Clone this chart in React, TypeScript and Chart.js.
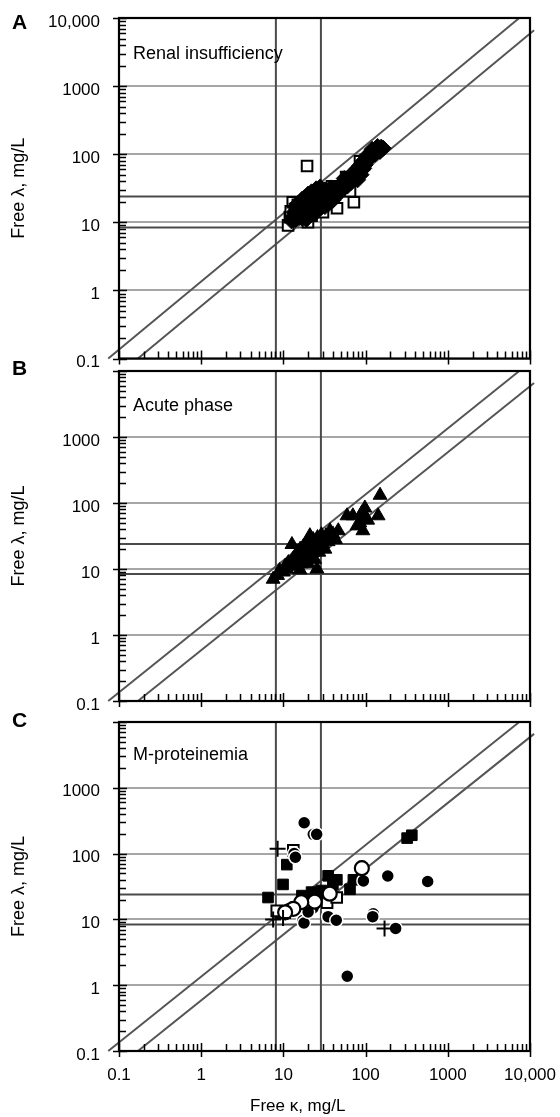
import React, { useEffect, useRef } from "react";
import { Chart, registerables } from "chart.js";

Chart.register(...registerables);

const FONT_FAMILY = "'Liberation Sans', Arial, Helvetica, sans-serif";
const TEXT_COLOR = "#000";

// Axis ticks (both axes, log scale 0.1 – 10,000)
const decadeValues = [0.1, 1, 10, 100, 1000, 10000];
const decadeLabels = ["0.1", "1", "10", "100", "1000", "10,000"];
const decadeLabelsNoTop = ["0.1", "1", "10", "100", "1000", ""];
const minorSteps = [2, 3, 4, 5, 6, 7, 8, 9];

// Reference-range lines (mg/L)
const kappaLimits = [8.1, 28.6];
const lambdaLimits = [8.4, 24];

// Ratio boundary lines: endpoints (κ, λ)
const ratioUpperKappa = [0.074, 7400];
const ratioUpperLambda = [0.1, 10000];
const ratioLowerKappa = [0.17, 11200];
const ratioLowerLambda = [0.1, 6600];

// Panel A: renal insufficiency [κ, λ]
const renalFilled = [
  [12.5, 10.5], [13, 12], [13.5, 14], [14, 11], [14.5, 13], [15, 16], [15.5, 12], [16, 14.5],
  [16.5, 18], [17, 11.5], [17, 13.5], [17.5, 16], [18, 20], [18.5, 14], [19, 17], [19.5, 22],
  [20, 12.5], [20, 15], [21, 19], [21.5, 25], [22, 16], [22.5, 21], [23, 13.5], [23.5, 18],
  [24, 23], [24.5, 27], [25, 20], [26, 16], [26.5, 24], [27, 29], [28, 21], [29, 18],
  [30, 26], [31, 22], [32, 30], [33, 19], [34, 25], [36, 28], [37, 22], [38, 32],
  [40, 26], [42, 30], [44, 24], [46, 33], [48, 28], [51, 36], [54, 31], [57, 40],
  [60, 34], [62, 46], [66, 38], [70, 52], [73, 44], [77, 60], [81, 50], [85, 68],
  [90, 58], [94, 80], [99, 70], [104, 92], [109, 84], [114, 104], [120, 96], [126, 115],
  [132, 108], [138, 124], [146, 118], [155, 127], [164, 122], [120, 118], [108, 100],
  [14, 17], [16, 20], [18, 23], [20, 26], [22, 28], [25, 31], [28, 33], [19, 11],
  [22, 13], [25, 14], [28, 16], [32, 17], [36, 19], [40, 21], [45, 27], [50, 30],
  [55, 44], [65, 48], [75, 55], [80, 42], [88, 50], [95, 62], [100, 76], [112, 90],
  [130, 100], [140, 130], [150, 110], [17, 22], [15, 19],
];
const renalOpen = [
  [19.4, 67], [11.4, 9], [12, 11.9], [12.3, 14.5], [13, 19.7], [13.8, 15.7], [15, 18],
  [17.3, 11.2], [19.9, 10], [22, 12.5], [30.3, 14.1], [39, 33.8], [44.9, 16.1], [64.6, 28.6],
  [72, 19.7], [85.5, 78.5], [58, 46], [100, 82], [26, 27], [33, 23],
];

// Panel B: acute phase [κ, λ]
const acuteTriangles = [
  [7.5, 7], [8.5, 8], [9, 9.5], [10, 9], [10.5, 11], [11, 10], [11.5, 12.5], [12, 11],
  [12.7, 23.5], [13, 14], [13.5, 12], [14, 16], [14.5, 13], [15, 18], [15.5, 14], [15.9, 9.7],
  [16, 20], [16.5, 12], [17, 16], [17.5, 22], [18, 14], [18.5, 19], [19, 25], [19.5, 17],
  [20, 12], [20, 21], [21, 32], [21, 15], [22, 24], [22.5, 18], [23, 28], [23.5, 20],
  [24, 14], [24.5, 25], [25, 22], [25.6, 10], [26, 30], [27, 18], [27.5, 26], [28, 22],
  [29, 33], [30, 24], [31, 28], [32, 20], [33, 32], [35, 26], [36.9, 38], [38, 30],
  [40, 34], [43, 28], [46.5, 38], [59.5, 64], [70, 64], [78.5, 45], [90, 71], [92.7, 38],
  [98, 84], [106, 55], [142, 64], [150, 131], [100, 60], [85, 50],
];

// Panel C: M-proteinemia [κ, λ]
const mpFilledSquares = [
  [320, 172], [365, 190], [11, 68], [9.9, 34], [6.5, 21.5], [35, 46], [44.7, 40], [40, 34],
  [64.6, 28.7], [22, 26], [16.8, 23], [29, 27.5], [71, 40], [26, 24],
];
const mpOpenSquares = [
  [13.2, 112], [8.3, 13.5], [34, 18], [44.5, 21.5],
];
const mpFilledCircles = [
  [17.9, 294], [23.1, 196], [25.4, 196], [13.5, 100], [14, 88], [89.7, 64.6], [94, 38.5],
  [186, 45.7], [569, 37.6], [124, 12.2], [122, 11], [232, 7.3], [59.8, 1.37], [17.3, 9.6],
  [17.8, 8.8], [35, 11], [44, 9.7], [11.5, 14.5], [14.7, 15.3], [23, 15], [20, 13],
];
const mpOpenCircles = [
  [36.6, 24.6], [24, 18.6], [16.5, 18.3], [13.2, 14.5], [10.5, 12.8], [90, 60],
];
const mpCrosses = [
  [8.5, 118], [170, 7.3], [7.5, 10], [9.9, 10.5],
];

type Pair = number[];
type Series = { data: Pair[]; style: string; radius: number; fill: string; stroke: string; width: number };
type PanelDef = {
  top: number;
  height: number;
  plotTop: number;
  plotBottom: number;
  xAxisHeight: number;
  showXLabels: boolean;
  yLabels: string[];
  series: Series[];
};

const allTicks: number[] = decadeValues.flatMap((d, i) =>
  i < decadeValues.length - 1 ? [d, ...minorSteps.map((m) => m * d)] : [d]
);
const decadeIndex = (v: number) => decadeValues.findIndex((d) => Math.abs(v / d - 1) < 1e-6);

const framePlugin = {
  id: "frameTicks",
  afterDatasetsDraw(chart: any) {
    const { ctx, chartArea: a, scales } = chart;
    ctx.save();
    ctx.strokeStyle = "#000";
    ctx.lineWidth = 1.5;
    ctx.beginPath();
    for (const t of scales.x.ticks) {
      const px = Math.round(scales.x.getPixelForValue(t.value)) + 0.5;
      if (decadeIndex(t.value) >= 0) {
        ctx.moveTo(px, a.bottom - 8);
        ctx.lineTo(px, a.bottom + 6);
      } else {
        ctx.moveTo(px, a.bottom - 7);
        ctx.lineTo(px, a.bottom);
      }
    }
    for (const t of scales.y.ticks) {
      const py = Math.round(scales.y.getPixelForValue(t.value)) + 0.5;
      if (decadeIndex(t.value) >= 0) {
        ctx.moveTo(a.left - 6, py);
        ctx.lineTo(a.left + 8, py);
      } else {
        ctx.moveTo(a.left, py);
        ctx.lineTo(a.left + 7, py);
      }
    }
    ctx.stroke();
    ctx.lineWidth = 2.2;
    ctx.strokeRect(a.left, a.top, a.right - a.left, a.bottom - a.top);
    ctx.restore();
  },
};

function Panel({ def }: { def: PanelDef }) {
  const ref = useRef<HTMLCanvasElement>(null);
  useEffect(() => {
    const canvas = ref.current;
    if (!canvas) return;
    const pts = (arr: Pair[]) => arr.map(([x, y]) => ({ x, y }));
    const refLine = (xs: number[], ys: number[], clip: boolean, color: string) => ({
      data: xs.map((x, i) => ({ x, y: ys[i] })),
      showLine: true,
      pointRadius: 0,
      borderColor: color,
      backgroundColor: color,
      borderWidth: 2,
      clip: clip ? undefined : false,
      order: 20,
    });
    const n = def.series.length;
    const datasets: any[] = [
      ...def.series.map((s, i) => ({
        data: pts(s.data),
        showLine: false,
        pointStyle: s.style,
        pointRadius: s.radius,
        pointBackgroundColor: s.fill,
        pointBorderColor: s.stroke,
        pointBorderWidth: s.width,
        backgroundColor: s.fill,
        borderColor: s.stroke,
        borderWidth: s.width,
        clip: false,
        order: n - i,
      })),
      ...kappaLimits.map((k) => refLine([k, k], [0.1, 10000], true, "#4a4a4a")),
      ...lambdaLimits.map((l) => refLine([0.1, 10000], [l, l], true, "#4a4a4a")),
      refLine(ratioUpperKappa, ratioUpperLambda, false, "#555"),
      refLine(ratioLowerKappa, ratioLowerLambda, false, "#555"),
    ];
    const font = { family: FONT_FAMILY, size: 17 };
    const chart = new Chart(canvas, {
      type: "scatter",
      data: { datasets },
      plugins: [framePlugin],
      options: {
        responsive: false,
        maintainAspectRatio: false,
        animation: false,
        events: [],
        layout: {
          padding: {
            left: 0,
            right: 30,
            top: def.plotTop - def.top,
            bottom: def.height - (def.plotBottom - def.top) - def.xAxisHeight,
          },
        },
        plugins: { legend: { display: false }, tooltip: { enabled: false } },
        scales: {
          x: {
            type: "logarithmic",
            min: 0.1,
            max: 10000,
            afterBuildTicks: (s: any) => {
              s.ticks = allTicks.map((v) => ({ value: v }));
            },
            afterFit: (s: any) => {
              s.height = def.xAxisHeight;
              s.paddingLeft = 0;
              s.paddingRight = 0;
            },
            grid: { display: false, drawTicks: false },
            border: { display: false },
            ticks: {
              display: def.showXLabels,
              autoSkip: false,
              maxRotation: 0,
              minRotation: 0,
              padding: 14,
              color: TEXT_COLOR,
              font,
              callback: (v: any) => {
                const i = decadeIndex(Number(v));
                return i >= 0 ? decadeLabels[i] : "";
              },
            },
          },
          y: {
            type: "logarithmic",
            min: 0.1,
            max: 10000,
            afterBuildTicks: (s: any) => {
              s.ticks = allTicks.map((v) => ({ value: v }));
            },
            afterFit: (s: any) => {
              s.width = 119;
              s.paddingTop = 0;
              s.paddingBottom = 0;
            },
            grid: {
              drawTicks: false,
              lineWidth: 2,
              color: (c: any) =>
                c.tick && decadeIndex(c.tick.value) >= 0 ? "#a6a6a6" : "rgba(0,0,0,0)",
            },
            border: { display: false },
            ticks: {
              autoSkip: false,
              padding: 19,
              labelOffset: 4,
              color: TEXT_COLOR,
              font,
              callback: (v: any) => {
                const i = decadeIndex(Number(v));
                return i >= 0 ? def.yLabels[i] : "";
              },
            },
            title: {
              display: true,
              text: "Free λ, mg/L",
              color: TEXT_COLOR,
              font: { family: FONT_FAMILY, size: 18 },
              padding: { top: 8, bottom: 0 },
            },
          },
        },
      } as any,
    });
    return () => chart.destroy();
  }, [def]);
  return (
    <canvas
      ref={ref}
      width={560}
      height={def.height}
      style={{ position: "absolute", left: 0, top: def.top, width: 560, height: def.height }}
    />
  );
}

const filledDiamond = (data: Pair[]): Series => ({ data, style: "rectRot", radius: 8, fill: "#000", stroke: "#000", width: 1 });
const openSquare = (data: Pair[]): Series => ({ data, style: "rect", radius: 7.5, fill: "#fff", stroke: "#000", width: 2 });

const panels: PanelDef[] = [
  {
    top: 0, height: 368, plotTop: 18, plotBottom: 360, xAxisHeight: 4, showXLabels: false,
    yLabels: decadeLabels,
    series: [openSquare(renalOpen), filledDiamond(renalFilled)],
  },
  {
    top: 362, height: 354, plotTop: 366, plotBottom: 701, xAxisHeight: 10, showXLabels: false,
    yLabels: decadeLabelsNoTop,
    series: [{ data: acuteTriangles, style: "triangle", radius: 8, fill: "#000", stroke: "#000", width: 1 }],
  },
  {
    top: 712, height: 405, plotTop: 717, plotBottom: 1051, xAxisHeight: 45, showXLabels: true,
    yLabels: decadeLabelsNoTop,
    series: [
      openSquare(mpOpenSquares),
      { data: mpFilledSquares, style: "rect", radius: 7.5, fill: "#000", stroke: "#000", width: 1 },
      { data: mpFilledCircles, style: "circle", radius: 6.5, fill: "#000", stroke: "#fff", width: 1.5 },
      { data: mpOpenCircles, style: "circle", radius: 7, fill: "#fff", stroke: "#000", width: 2.2 },
      { data: mpCrosses, style: "cross", radius: 8, fill: "#000", stroke: "#000", width: 2 },
    ],
  },
];

const textBase: React.CSSProperties = {
  position: "absolute",
  fontFamily: FONT_FAMILY,
  color: TEXT_COLOR,
  lineHeight: "20px",
  height: 20,
  whiteSpace: "nowrap",
};

const panelLetters = ["A", "B", "C"];
const panelLetterTops = [12, 358, 710];
const panelTitles = ["Renal insufficiency", "Acute phase", "M-proteinemia"];
const panelTitleTops = [43, 395, 744];

export default function App() {
  return (
    <div style={{ position: "absolute", left: 0, top: 0, width: 560, height: 1117, background: "#fff", overflow: "hidden" }}>
      {panels.map((p, i) => (
        <Panel key={i} def={p} />
      ))}
      {panelLetters.map((l, i) => (
        <div key={"l" + i} style={{ ...textBase, left: 12, top: panelLetterTops[i], fontSize: 21, fontWeight: "bold" }}>{l}</div>
      ))}
      {panelTitles.map((t, i) => (
        <div key={"t" + i} style={{ ...textBase, left: 133, top: panelTitleTops[i], fontSize: 18 }}>{t}</div>
      ))}
      <div style={{ ...textBase, left: 250, top: 1096, fontSize: 17 }}>Free κ, mg/L</div>
    </div>
  );
}
